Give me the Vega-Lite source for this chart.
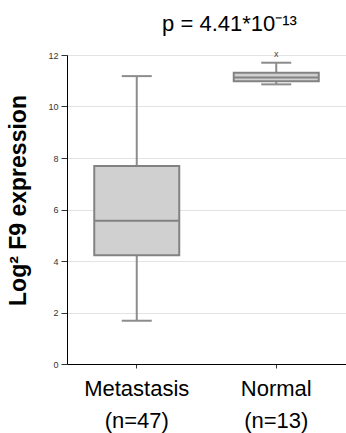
{
  "$schema": "https://vega.github.io/schema/vega-lite/v6.json",
  "autosize": "none",
  "width": 279,
  "height": 309,
  "padding": {"left": 67, "top": 55, "right": 0, "bottom": 69},
  "background": "white",
  "config": {
    "font": "Liberation Sans",
    "view": {"stroke": null}
  },
  "title": {
    "text": "p = 4.41*10⁻¹³",
    "fontSize": 22,
    "fontWeight": "normal",
    "color": "black",
    "anchor": "middle",
    "dx": 23,
    "offset": 14
  },
  "datasets": {
    "box": [
      {"group": "Metastasis", "min": 1.68, "q1": 4.22, "median": 5.56, "q3": 7.69, "max": 11.18},
      {"group": "Normal", "min": 10.86, "q1": 10.98, "median": 11.13, "q3": 11.31, "max": 11.7}
    ],
    "outliers": [
      {"group": "Normal", "value": 12.02}
    ]
  },
  "encoding": {
    "x": {
      "field": "group",
      "type": "nominal",
      "scale": {"paddingInner": 0, "paddingOuter": 0},
      "axis": {
        "title": null,
        "labelAngle": 0,
        "labelFontSize": 22,
        "labelColor": "black",
        "labelLineHeight": 32,
        "labelPadding": 10,
        "tickSize": 4,
        "tickColor": "#333",
        "domainColor": "black",
        "labelExpr": "datum.value == 'Metastasis' ? ['Metastasis', '(n=47)'] : ['Normal', '  (n=13)']"
      }
    }
  },
  "layer": [
    {
      "data": {"name": "box"},
      "mark": {"type": "rule", "color": "#8c8c8c", "strokeWidth": 2},
      "encoding": {
        "y": {
          "field": "min",
          "type": "quantitative",
          "scale": {"domain": [0, 12], "nice": false},
          "axis": {
            "title": "Log² F9 expression",
            "titleFontSize": 23,
            "titleFontWeight": "bold",
            "titleColor": "black",
            "titlePadding": 17,
            "titleY": 145,
            "values": [0, 2, 4, 6, 8, 10, 12],
            "labelFontSize": 9,
            "labelColor": "#333",
            "labelPadding": 3,
            "tickSize": 6,
            "tickColor": "#333",
            "domainColor": "black",
            "gridColor": "#e3e3e3",
            "grid": true
          }
        },
        "y2": {"field": "max"}
      }
    },
    {
      "data": {"name": "box"},
      "mark": {"type": "bar", "width": 85, "fill": "#d0d0d0", "stroke": "#828282", "strokeWidth": 2},
      "encoding": {
        "y": {"field": "q1", "type": "quantitative"},
        "y2": {"field": "q3"}
      }
    },
    {
      "data": {"name": "box"},
      "mark": {"type": "tick", "size": 85, "thickness": 2, "color": "#828282", "opacity": 1},
      "encoding": {
        "y": {"field": "median", "type": "quantitative"}
      }
    },
    {
      "data": {"name": "box"},
      "mark": {"type": "tick", "size": 30, "thickness": 2, "color": "#8c8c8c", "opacity": 1},
      "encoding": {
        "y": {"field": "min", "type": "quantitative"}
      }
    },
    {
      "data": {"name": "box"},
      "mark": {"type": "tick", "size": 30, "thickness": 2, "color": "#8c8c8c", "opacity": 1},
      "encoding": {
        "y": {"field": "max", "type": "quantitative"}
      }
    },
    {
      "data": {"name": "outliers"},
      "mark": {"type": "text", "text": "x", "fontSize": 9, "color": "#444", "baseline": "middle"},
      "encoding": {
        "y": {"field": "value", "type": "quantitative"}
      }
    }
  ]
}
